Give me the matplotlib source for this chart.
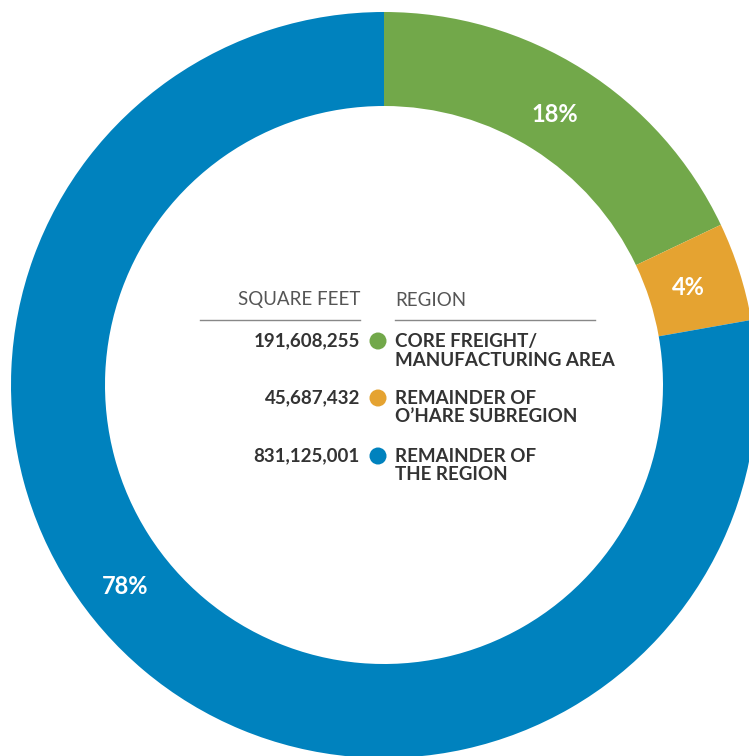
import matplotlib
matplotlib.use("Agg")
import matplotlib.pyplot as plt
import numpy as np

categories = ["CORE FREIGHT/\nMANUFACTURING AREA", "REMAINDER OF\nO\u2019HARE SUBREGION", "REMAINDER OF\nTHE REGION"]
square_feet = [191608255, 45687432, 831125001]
colors = ["#72A84A", "#E5A331", "#0082BE"]
header_left = "SQUARE FEET"
header_right = "REGION"

W, H = 749, 756
fig = plt.figure(figsize=(W / 100, H / 100), dpi=100)
ax = fig.add_axes([0, 0, 1, 1])

cx, cy = 384, H - 385
R = 373
ring = 94
FONT = "Lato"

wedges, texts, autotexts = ax.pie(
    square_feet, colors=colors, startangle=90, counterclock=False,
    center=(cx, cy), radius=R, autopct="%.0f%%", pctdistance=320 / R,
    wedgeprops=dict(width=ring, edgecolor="none"), frame=True,
    textprops=dict(color="white", fontsize=17, fontweight="bold", family=FONT))
ax.set_xlim(0, W)
ax.set_ylim(0, H)
ax.set_aspect("equal")
ax.axis("off")

# The 78% label sits off the wedge midpoint in the reference
ang = np.deg2rad(218)
autotexts[2].set_position((cx + 328 * np.cos(ang), cy + 328 * np.sin(ang)))

dark = "#333333"
grey = "#555555"
xnum = 360
xdot = 378
xlab = 395
ax.text(xnum, H - 300, header_left, ha="right", va="center", fontsize=13.5, color=grey, family=FONT)
ax.text(xlab, H - 300, header_right, ha="left", va="center", fontsize=13.5, color=grey, family=FONT)
ax.plot([200, 360], [H - 320, H - 320], color="#888888", lw=1)
ax.plot([395, 595], [H - 320, H - 320], color="#888888", lw=1)

row_y = [341, 398, 456]
line_gap = 19
for yv, val, lab, col in zip(row_y, square_feet, categories, colors):
    ax.text(xnum, H - yv, f"{val:,}", ha="right", va="center", fontsize=13.5, fontweight="bold",
            color=dark, family=FONT)
    ax.scatter([xdot], [H - yv], s=150, color=col, edgecolors="none", zorder=5)
    for i, line in enumerate(lab.split("\n")):
        ax.text(xlab, H - yv - i * line_gap, line, ha="left", va="center", fontsize=13.5,
                fontweight="bold", color=dark, family=FONT)

fig.savefig("out.png", dpi=100)
